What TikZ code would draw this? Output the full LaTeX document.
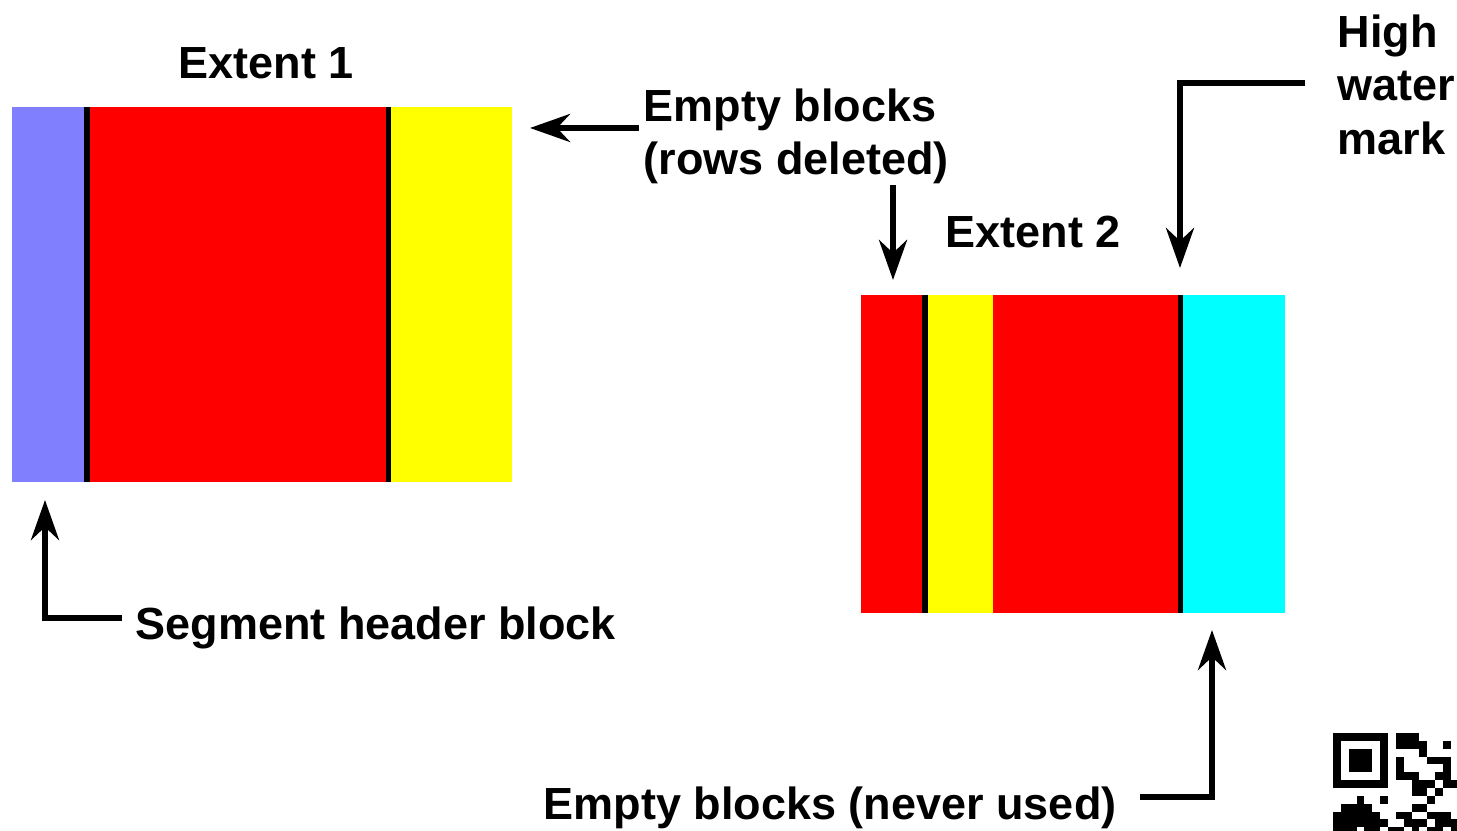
\documentclass[tikz,border=0pt]{standalone}
\usepackage{fontspec}
\setmainfont{Liberation Sans}
\usetikzlibrary{positioning,arrows.meta}

\definecolor{hdrblue}{RGB}{128,128,255}
\definecolor{usedred}{RGB}{255,0,0}
\definecolor{freeyellow}{RGB}{255,255,0}
\definecolor{unusedcyan}{RGB}{0,255,255}

\begin{document}
\begin{tikzpicture}[x=0.01cm, y=-0.01cm,
    blk/.style={inner sep=0pt, outer sep=0pt, minimum height=3.75cm},
    lbl/.style={inner sep=0pt, font=\bfseries\fontsize{12.8}{15.2}\selectfont, align=left},
    arr/.style={line width=1.6pt, -{Stealth[length=0.4cm, width=0.28cm, inset=0.13cm]}},
    sepline/.style={line width=1.5pt}]
      \useasboundingbox (0,0) rectangle (1457,831);

      % Extent 1
      \node[blk, fill=hdrblue, minimum width=0.75cm, anchor=north west] (hdr) at (12,107) {};
      \node[blk, fill=usedred, minimum width=3.01cm, right=0pt of hdr] (used1) {};
      \node[blk, fill=freeyellow, minimum width=1.24cm, right=0pt of used1] (free1) {};
      \draw[sepline] (used1.north west) -- (used1.south west);
      \draw[sepline] (free1.north west) -- (free1.south west);

      % Extent 2
      \node[blk, fill=usedred, minimum width=0.64cm, minimum height=3.18cm, anchor=north west] (used2a) at (861,295) {};
      \node[blk, fill=freeyellow, minimum width=0.68cm, minimum height=3.18cm, right=0pt of used2a] (free2) {};
      \node[blk, fill=usedred, minimum width=1.87cm, minimum height=3.18cm, right=0pt of free2] (used2b) {};
      \node[blk, fill=unusedcyan, minimum width=1.05cm, minimum height=3.18cm, right=0pt of used2b] (unused2) {};
      \draw[sepline] (free2.north west) -- (free2.south west);
      \draw[sepline] (unused2.north west) -- (unused2.south west);

      % Labels
      \node[lbl, anchor=base] (ext1) at (266,79) {Extent 1};
      \node[lbl, anchor=base] (ext2) at (1033,248) {Extent 2};
      \node[lbl, anchor=north west] (deleted) at (643,88) {Empty blocks\\(rows deleted)};
      \node[lbl, anchor=north west] (hwm) at (1337,14) {High\\water\\mark};
      \node[lbl, anchor=base west] (seghdr) at (135,640) {Segment header block};
      \node[lbl, anchor=base west] (never) at (543,820) {Empty blocks (never used)};

      % Arrows
      \coordinate (deltipa) at (530,128);
      \coordinate (deltipb) at (893,280);
      \coordinate (hwmbend) at (1180,83);
      \coordinate (hwmtip) at (1180,268);
      \coordinate (segbend) at (45,618);
      \coordinate (segtip) at (45,500);
      \coordinate (neverbend) at (1212,797);
      \coordinate (nevertip) at (1212,630);
      \draw[arr] (deltipa -| deleted.west) ++(-4,0) -- (deltipa);
      \draw[arr] (deltipb |- deleted.south) -- (deltipb);
      \draw[arr] (hwmbend -| hwm.west) ++(-32,0) -- (hwmbend) -- (hwmtip);
      \draw[arr] (segbend -| seghdr.west) ++(-13,0) -- (segbend) -- (segtip);
      \draw[arr] (neverbend -| never.east) ++(23,0) -- (neverbend) -- (nevertip);

      % QR mark
      \begin{scope}
        \clip (0,0) rectangle (1457,831);
        \fill (1333,733) rectangle ++(55,55);
        \fill[white] (1341,741) rectangle ++(39,39);
        \fill (1349,749) rectangle ++(23,23);
        \foreach \c/\r in {8/0,9/0,10/0,8/1,9/1,10/1,11/1,14/1,11/2,8/3,12/3,13/3,14/3,8/4,14/4,
            8/5,9/5,10/5,13/5,14/5,10/6,11/6,12/6,14/6,15/6,10/7,11/7,13/7,3/8,6/8,12/8,
            1/9,2/9,3/9,4/9,10/9,11/9,0/10,1/10,2/10,3/10,4/10,5/10,8/10,9/10,12/10,13/10,14/10,
            0/11,1/11,2/11,3/11,4/11,5/11,6/11,9/11,10/11,11/11,13/11,14/11,15/11,
            0/12,1/12,2/12,4/12,5/12,7/12,8/12,10/12,12/12,13/12,15/12}
          \fill (1333+\c*7.86,733+\r*7.86) rectangle ++(7.86,7.86);
      \end{scope}
    \end{tikzpicture}
\end{document}
